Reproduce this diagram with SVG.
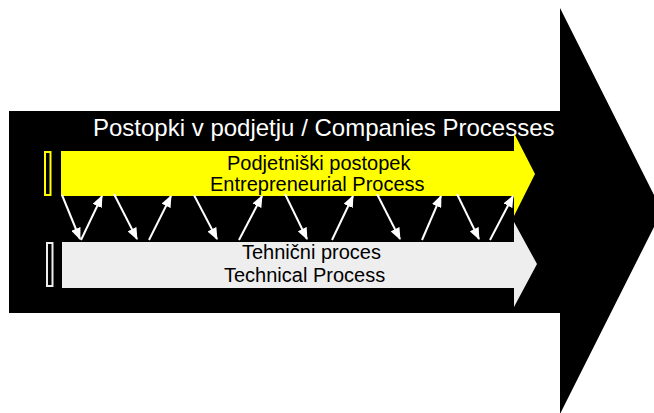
<svg xmlns="http://www.w3.org/2000/svg" width="654" height="413" viewBox="0 0 654 413">
<style>
text{font-family:"Liberation Sans",Arial,sans-serif;font-size:20px;fill:#000}
.title{font-size:24px;fill:#fff}
.lnk{stroke:#fff;stroke-width:2;fill:none;marker-end:url(#ah)}
</style>
<defs>
<marker id="ah" markerUnits="userSpaceOnUse" viewBox="0 0 12 10" refX="11" refY="5" markerWidth="12" markerHeight="10" orient="auto">
<path d="M0,0 L12,5 L0,10 Z" fill="#fff"/>
</marker>
</defs>
<rect width="654" height="413" fill="#fff"/>
<g id="companies">
<polygon points="9,111 560,111 560,8 662,211 560,414 560,313 9,313" fill="#000"/>
<text class="title" x="93" y="136">Postopki v podjetju / Companies Processes</text>
</g>
<g id="entrepreneurial">
<rect x="45" y="152" width="5.5" height="43" fill="none" stroke="#ffff00" stroke-width="2"/>
<polygon points="61,151 514,151 514,133 535,174 514,216 514,196 61,196" fill="#ffff00"/>
<text x="227" y="170">Podjetniški postopek</text>
<text x="210" y="191">Entrepreneurial Process</text>
</g>
<g id="technical">
<rect x="47" y="243" width="5.5" height="43" fill="none" stroke="#eeeeee" stroke-width="2"/>
<polygon points="62,242 514,242 514,222 537,264 514,307 514,288 62,288" fill="#eeeeee"/>
<text x="242" y="259">Tehnični proces</text>
<text x="224" y="282">Technical Process</text>
</g>
<g id="connectors">
<line class="lnk" x1="62" y1="195" x2="80" y2="239"/>
<line class="lnk" x1="81" y1="240" x2="102" y2="196"/>
<line class="lnk" x1="114" y1="194" x2="137" y2="239"/>
<line class="lnk" x1="149" y1="240" x2="171" y2="196"/>
<line class="lnk" x1="194" y1="195" x2="217" y2="239"/>
<line class="lnk" x1="239" y1="240" x2="262" y2="196"/>
<line class="lnk" x1="285" y1="194" x2="307" y2="239"/>
<line class="lnk" x1="332" y1="240" x2="353" y2="196"/>
<line class="lnk" x1="377" y1="194" x2="400" y2="239"/>
<line class="lnk" x1="422" y1="240" x2="441" y2="196"/>
<line class="lnk" x1="457" y1="194" x2="479" y2="239"/>
<line class="lnk" x1="490" y1="240" x2="513" y2="196"/>
</g>
</svg>
